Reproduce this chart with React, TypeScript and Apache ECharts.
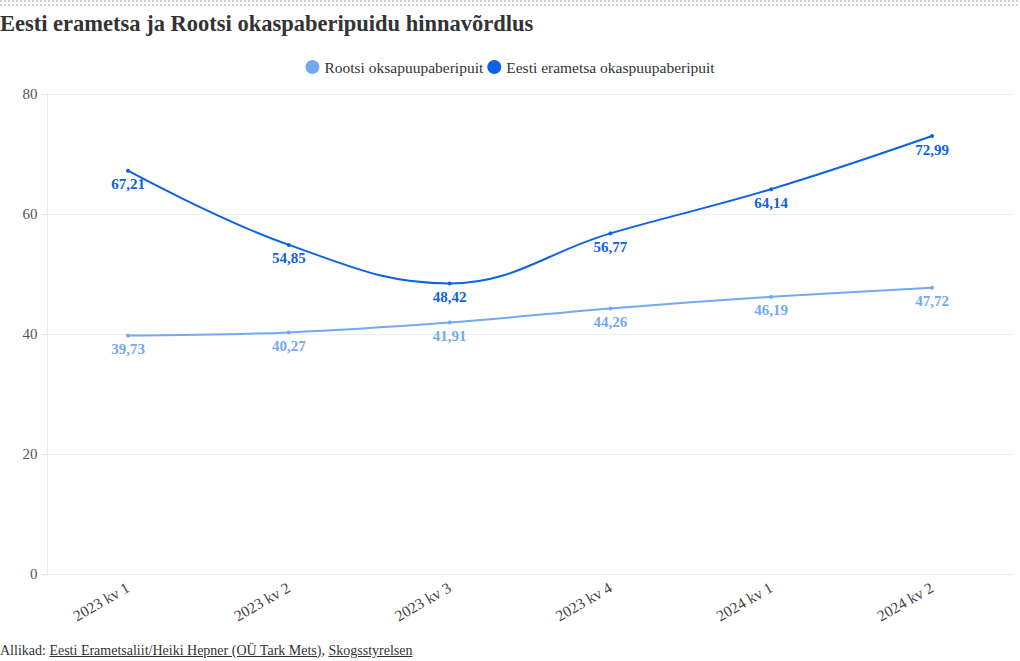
import React, { useEffect, useRef } from "react";
import * as echarts from "echarts";

const categories = ["2023 kv 1", "2023 kv 2", "2023 kv 3", "2023 kv 4", "2024 kv 1", "2024 kv 2"];
const rootsiValues = [39.73, 40.27, 41.91, 44.26, 46.19, 47.72];
const eestiValues = [67.21, 54.85, 48.42, 56.77, 64.14, 72.99];
const seriesNames = ["Rootsi oksapuupaberipuit", "Eesti erametsa okaspuupaberipuit"];
const titleText = "Eesti erametsa ja Rootsi okaspaberipuidu hinnavõrdlus";

const FONT = "'Liberation Serif', 'DejaVu Serif', serif";
const LIGHT = "#74a8f2";
const DARK = "#0d62e6";

const fmt = (v: number) => v.toFixed(2).replace(".", ",");

const dotsSvg =
  "data:image/svg+xml;utf8," +
  encodeURIComponent(
    "<svg xmlns='http://www.w3.org/2000/svg' width='4' height='4'><rect x='0' y='0' width='2' height='2' fill='#d2d2d6'/></svg>"
  );

export default function App() {
  const ref = useRef<HTMLDivElement>(null);
  useEffect(() => {
    document.body.style.margin = "0";
    const chart = echarts.init(ref.current!, null, { renderer: "svg" });
    const labelFor = (color: string) => ({
      show: true,
      position: "bottom" as const,
      distance: 4,
      color,
      fontFamily: FONT,
      fontSize: 15,
      fontWeight: "bold" as const,
      formatter: (p: any) => fmt(p.value),
    });
    chart.setOption({
      animation: false,
      title: {
        text: titleText,
        left: 0,
        top: 12,
        padding: 0,
        textStyle: { fontFamily: FONT, fontSize: 22.5, fontWeight: "bold", color: "#333" },
      },
      legend: {
        top: 54,
        left: "center",
        icon: "circle",
        itemWidth: 14,
        itemHeight: 14,
        itemGap: 4,
        textStyle: { fontFamily: FONT, fontSize: 15.5, color: "#333" },
        data: seriesNames,
      },
      grid: { left: 47.6, right: 7.6, top: 94, bottom: 87, containLabel: false },
      xAxis: {
        type: "category",
        data: categories,
        boundaryGap: true,
        axisLine: { lineStyle: { color: "#eaeaea" } },
        axisTick: { alignWithLabel: true, length: 5, lineStyle: { color: "#e6e6e6" } },
        axisLabel: { rotate: 30, fontFamily: FONT, fontSize: 15.5, color: "#444", margin: 12 },
      },
      yAxis: {
        type: "value",
        min: 0,
        max: 80,
        interval: 20,
        axisLine: { show: true, lineStyle: { color: "#eaeaea" } },
        axisTick: { show: true, length: 6, lineStyle: { color: "#e6e6e6" } },
        splitLine: { lineStyle: { color: "#efefef" } },
        axisLabel: { fontFamily: FONT, fontSize: 15, color: "#555", margin: 10 },
      },
      series: [
        {
          name: seriesNames[0],
          type: "line",
          data: rootsiValues,
          smooth: 0.4,
          color: LIGHT,
          symbol: "circle",
          symbolSize: 4,
          lineStyle: { width: 2, color: LIGHT },
          label: labelFor(LIGHT),
        },
        {
          name: seriesNames[1],
          type: "line",
          data: eestiValues,
          smooth: 0.4,
          color: DARK,
          symbol: "circle",
          symbolSize: 4,
          lineStyle: { width: 2, color: DARK },
          label: labelFor(DARK),
        },
      ],
    });
    return () => chart.dispose();
  }, []);
  return (
    <div style={{ position: "absolute", left: 0, top: 0, width: 1020, height: 661, background: "#fff" }}>
      <div
        style={{
          position: "absolute",
          left: 0,
          top: 0,
          width: 1020,
          height: 8,
          backgroundImage: `url("${dotsSvg}")`,
          backgroundRepeat: "repeat",
        }}
      />
      <div ref={ref} style={{ position: "absolute", left: 0, top: 0, width: 1020, height: 661 }} />
      <div
        style={{
          position: "absolute",
          left: 0,
          top: 643,
          fontFamily: FONT,
          fontSize: 14,
          color: "#333",
          whiteSpace: "nowrap",
        }}
      >
        Allikad: <u>Eesti Erametsaliit/Heiki Hepner (OÜ Tark Mets)</u>, <u>Skogsstyrelsen</u>
      </div>
    </div>
  );
}
